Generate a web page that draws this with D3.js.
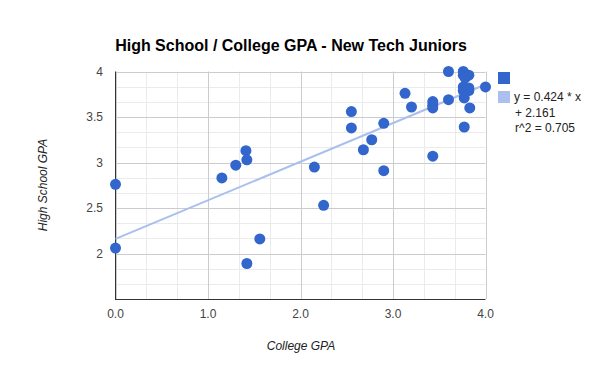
<!DOCTYPE html>
<html>
<head>
<meta charset="utf-8">
<script src="https://cdn.jsdelivr.net/npm/d3@7"></script>
<style>
body{margin:0;background:#fff;}
text{font-family:Arial,"Liberation Sans",sans-serif;}
</style>
</head>
<body>
<div id="chart"></div>
<script>
// college GPA (x) / high school GPA (y)
var collegeGPA = [0, 0, 1.15, 1.30, 1.41, 1.42, 1.56, 1.42, 2.15, 2.90, 2.25,
  3.60, 3.76, 3.76, 3.82, 3.78, 3.76, 3.82, 3.76, 3.82, 4.00, 3.13, 3.20,
  3.43, 3.43, 3.43, 3.60, 3.77, 3.83, 3.77, 2.55, 2.55, 2.90, 2.77, 2.68, 3.43];
var schoolGPA = [2.76, 2.06, 2.83, 2.97, 3.13, 3.03, 2.16, 1.89, 2.95, 2.91, 2.53,
  4.00, 4.00, 3.96, 3.96, 3.93, 3.83, 3.82, 3.79, 3.79, 3.83, 3.76, 3.61,
  3.67, 3.63, 3.60, 3.69, 3.71, 3.60, 3.39, 3.56, 3.38, 3.43, 3.25, 3.14, 3.07];
var trend = [0.424, 2.161]; // slope, intercept
var legendLines = ["y = 0.424 * x", "+ 2.161", "r^2 = 0.705"];
var xTicks = [0, 1, 2, 3, 4];
var yTicks = [2, 2.5, 3, 3.5, 4];

var width = 600, height = 371;
var svg = d3.select("#chart").append("svg")
  .attr("width", width)
  .attr("height", height);

var x = d3.scaleLinear().domain([0, 4]).range([115.5, 485.5]);
var y = d3.scaleLinear().domain([1.5, 4]).range([299, 71.5]);

// minor grid
var minorX = d3.range(0, 12.01, 1).map(function(i){ return i/3; }).filter(function(v){ return v % 1 != 0; });
var minorY = d3.range(0, 15.01, 1).map(function(i){ return 1.5 + i/6; });
svg.append("g").selectAll("line").data(minorX).enter().append("line")
  .attr("x1", function(d){ return Math.round(x(d)) + 0.5; })
  .attr("x2", function(d){ return Math.round(x(d)) + 0.5; })
  .attr("y1", y(4)).attr("y2", y(1.5))
  .attr("stroke", "#ebebeb");
svg.append("g").selectAll("line").data(minorY).enter().append("line")
  .attr("y1", function(d){ return Math.round(y(d)) + 0.5; })
  .attr("y2", function(d){ return Math.round(y(d)) + 0.5; })
  .attr("x1", x(0)).attr("x2", x(4))
  .attr("stroke", "#ebebeb");

// major grid
svg.append("g").selectAll("line").data(xTicks).enter().append("line")
  .attr("x1", function(d){ return Math.round(x(d)) + 0.5; })
  .attr("x2", function(d){ return Math.round(x(d)) + 0.5; })
  .attr("y1", y(4)).attr("y2", y(1.5))
  .attr("stroke", "#cccccc");
svg.append("g").selectAll("line").data(yTicks).enter().append("line")
  .attr("y1", function(d){ return Math.round(y(d)) + 0.5; })
  .attr("y2", function(d){ return Math.round(y(d)) + 0.5; })
  .attr("x1", x(0)).attr("x2", x(4))
  .attr("stroke", "#cccccc");

// axes lines
svg.append("line").attr("x1", 115.5).attr("x2", 115.5).attr("y1", y(4)).attr("y2", 300)
  .attr("stroke", "#333").attr("stroke-width", 1);
svg.append("line").attr("x1", 115).attr("x2", x(4)).attr("y1", 299.5).attr("y2", 299.5)
  .attr("stroke", "#333").attr("stroke-width", 1);

// tick labels
svg.append("g").selectAll("text").data(xTicks).enter().append("text")
  .attr("x", function(d){ return x(d); })
  .attr("y", 318)
  .attr("text-anchor", "middle")
  .attr("font-size", 12)
  .attr("fill", "#444")
  .text(function(d){ return d.toFixed(1); });
svg.append("g").selectAll("text").data(yTicks).enter().append("text")
  .attr("x", 103)
  .attr("y", function(d){ return y(d) + 4; })
  .attr("text-anchor", "end")
  .attr("font-size", 12)
  .attr("fill", "#444")
  .text(function(d){ return d; });

// trend line
svg.append("line")
  .attr("x1", x(0)).attr("y1", y(trend[1]))
  .attr("x2", x(4)).attr("y2", y(trend[0]*4 + trend[1]))
  .attr("stroke", "#a9bfee").attr("stroke-width", 2);

// points
var pts = collegeGPA.map(function(v, i){ return {x: v, y: schoolGPA[i]}; });
svg.append("g").selectAll("circle").data(pts).enter().append("circle")
  .attr("cx", function(d){ return x(d.x); })
  .attr("cy", function(d){ return y(d.y); })
  .attr("r", 5.5)
  .attr("fill", "#3366cc");

// title
svg.append("text")
  .attr("x", 291).attr("y", 51)
  .attr("text-anchor", "middle")
  .attr("font-size", 16).attr("font-weight", "bold")
  .attr("fill", "#000")
  .text("High School / College GPA - New Tech Juniors");

// axis titles
svg.append("text")
  .attr("x", 301).attr("y", 350)
  .attr("text-anchor", "middle")
  .attr("font-size", 12).attr("font-style", "italic")
  .attr("fill", "#222")
  .text("College GPA");
svg.append("text")
  .attr("transform", "translate(47,185) rotate(-90)")
  .attr("text-anchor", "middle")
  .attr("font-size", 12).attr("font-style", "italic")
  .attr("fill", "#222")
  .text("High School GPA");

// legend
svg.append("rect").attr("x", 498).attr("y", 72).attr("width", 12).attr("height", 12).attr("fill", "#3366cc");
svg.append("rect").attr("x", 498).attr("y", 91).attr("width", 12).attr("height", 12).attr("fill", "#abc0ee");
svg.append("g").selectAll("text").data(legendLines).enter().append("text")
  .attr("x", function(d, i){ return i == 0 ? 514 : 515; })
  .attr("y", function(d, i){ return 101 + i*15.5; })
  .attr("font-size", 12)
  .attr("fill", "#222")
  .text(function(d){ return d; });
</script>
</body>
</html>
